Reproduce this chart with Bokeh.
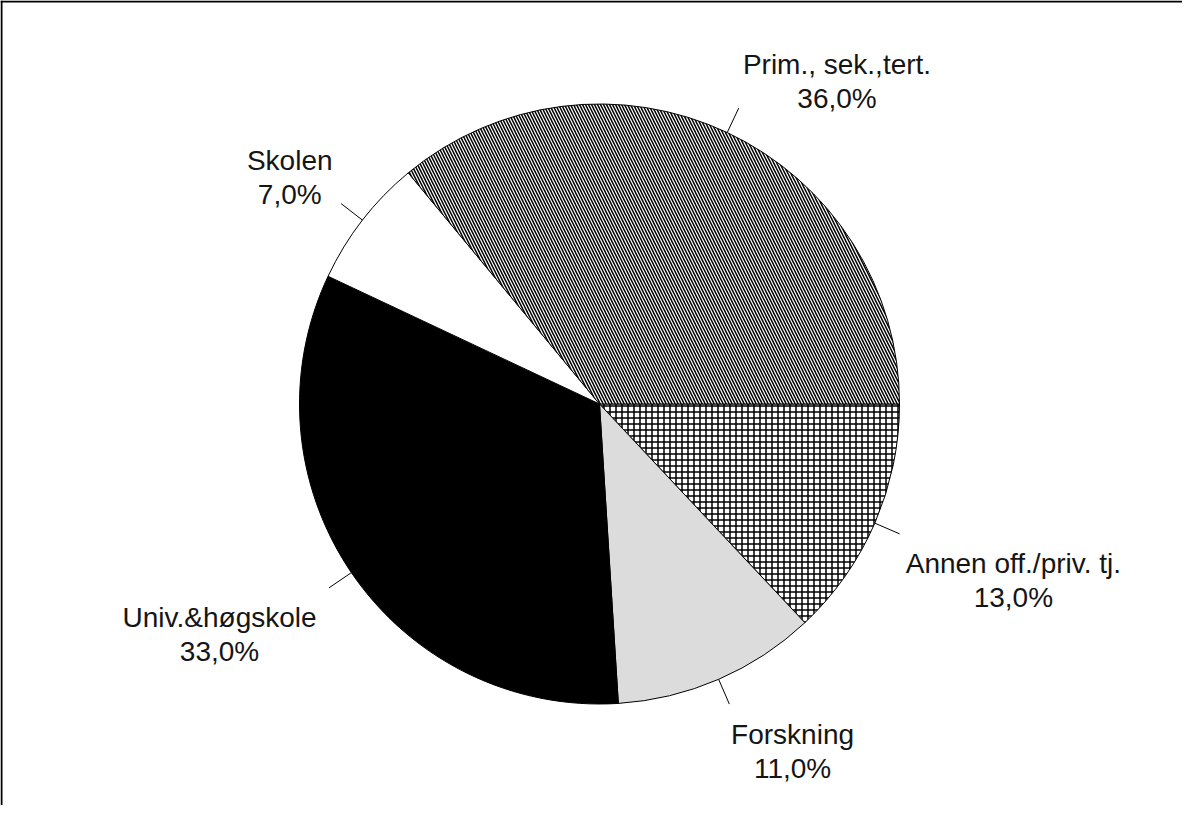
import numpy as np
from bokeh.plotting import figure
from bokeh.models import ColumnDataSource, Range1d, BoxAnnotation
from bokeh.core.properties import value
from bokeh.embed import file_html
from bokeh.resources import INLINE

# ---- data (clockwise from 3 o'clock) ----
categories = ["Annen off./priv. tj.", "Forskning", "Univ.&høgskole", "Skolen", "Prim., sek.,tert."]
shares = [13.0, 11.0, 33.0, 7.0, 36.0]

# ---- styles ----
fills = ["white", "#dcdcdc", "black", "white", "white"]
hatches = ["cross", "blank", "blank", "blank", "left_diagonal_line"]
label_dx = [111, 62, -107, -49, 97]   # horizontal shift of label centre from anchor (px)

W, H = 1182, 805
CX, CY, R = 599, 401.5, 300

p = figure(width=W, height=H, output_backend="svg", toolbar_location=None,
           x_range=Range1d(0, W), y_range=Range1d(0, H), min_border=0,
           outline_line_color=None, background_fill_color="white",
           border_fill_color="white")
p.axis.visible = False
p.grid.visible = False

vals = np.array(shares)
cum = np.cumsum(vals)
prev = cum - vals
a_start = -2 * np.pi * prev / vals.sum()
a_end = -2 * np.pi * cum / vals.sum()
mid = (a_start + a_end) / 2

src = ColumnDataSource(dict(start=a_end, end=a_start, fill=fills, hatch=hatches))
p.wedge(x=CX, y=CY, radius=R, start_angle="start", end_angle="end", source=src,
        fill_color="fill", hatch_pattern="hatch", hatch_color="black",
        hatch_scale=6, hatch_weight=1.5, line_color="black", line_width=1)

# leader lines
c, s = np.cos(mid), np.sin(mid)
p.segment(x0=CX + R * c, y0=CY + R * s, x1=CX + 1.09 * R * c, y1=CY + 1.09 * R * s,
          line_color="black", line_width=1)

# labels
ax = CX + 1.1 * R * c
ay = CY + 1.1 * R * s
tx = ax + np.array(label_dx)
y1 = np.where(s > 0, ay + 41, ay - 28)
y2 = np.where(s > 0, ay + 7, ay - 62)
pct = [f"{v:.1f}".replace(".", ",") + "%" for v in shares]

lab = ColumnDataSource(dict(x=tx, y1=y1, y2=y2, name=categories, pct=pct))
for col, ycol in (("name", "y1"), ("pct", "y2")):
    p.text(x="x", y=ycol, text=col, source=lab, text_align="center",
           text_baseline="alphabetic", text_font=value("Liberation Sans"),
           text_font_size="28px", text_color="#151515")

# left/top frame border (thin filled strips)
p.add_layout(BoxAnnotation(right=2, fill_color="black", fill_alpha=1, line_color=None))
p.add_layout(BoxAnnotation(bottom=H - 2, fill_color="black", fill_alpha=1, line_color=None))

open("out.html", "w").write(file_html(p, INLINE))
